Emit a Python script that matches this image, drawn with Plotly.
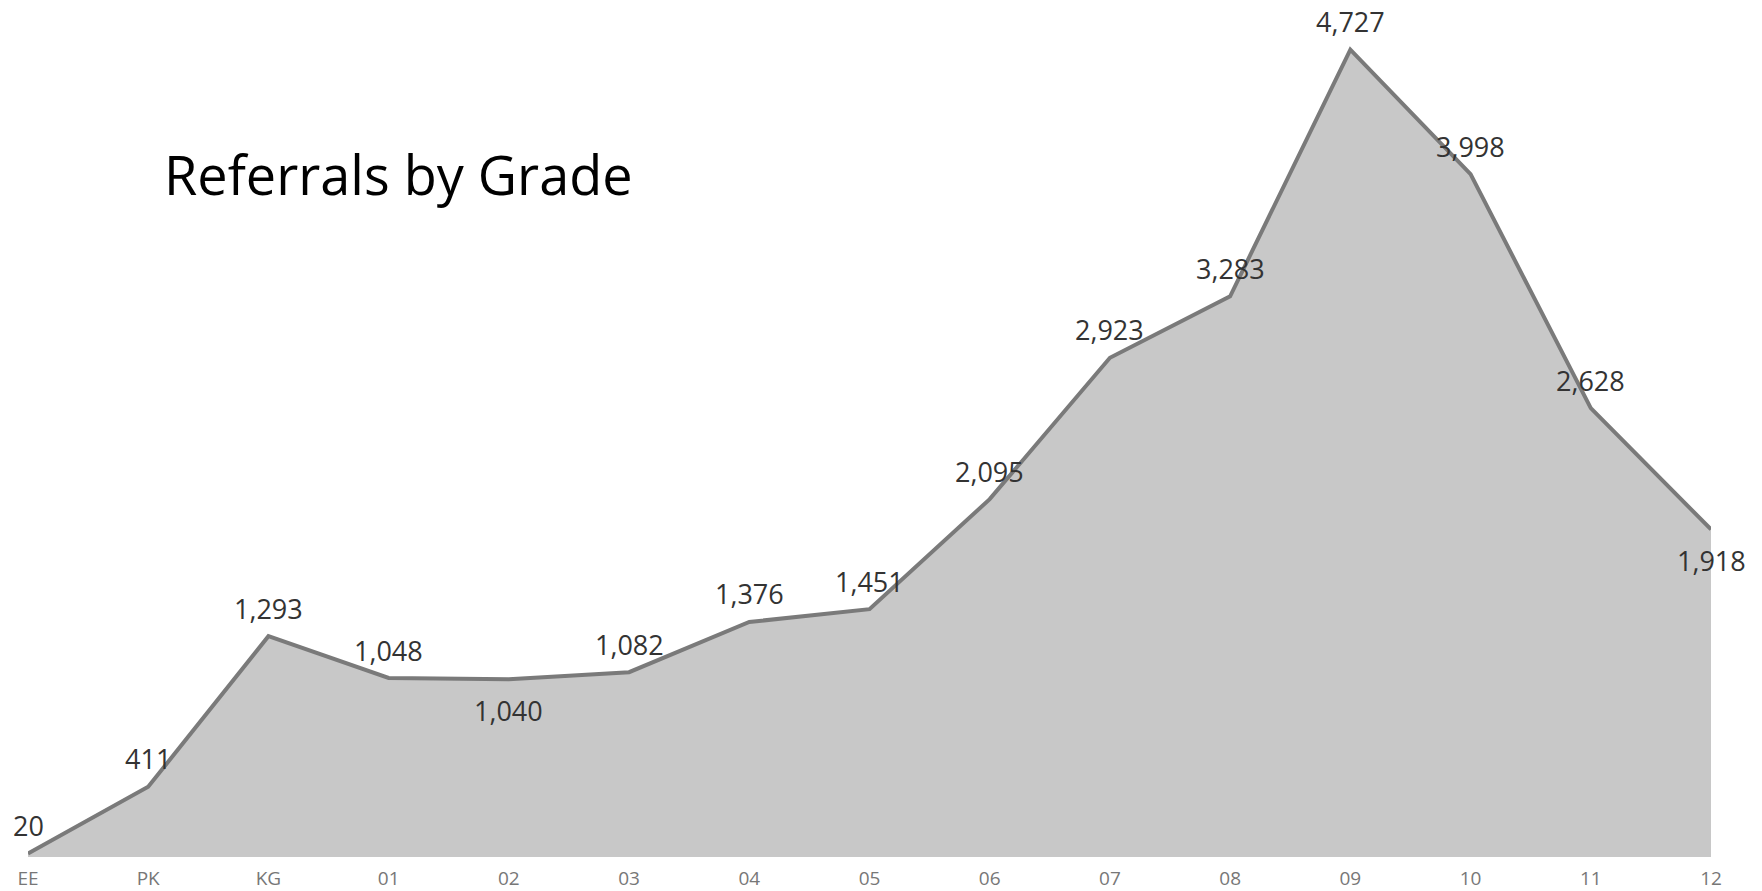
import plotly.graph_objects as go

# Referral counts per grade level
grades = ["EE", "PK", "KG", "01", "02", "03", "04", "05", "06", "07", "08", "09", "10", "11", "12"]
referrals = [20, 411, 1293, 1048, 1040, 1082, 1376, 1451, 2095, 2923, 3283, 4727, 3998, 2628, 1918]
# Which side of the point each value label sits on
label_side = ["above", "above", "above", "above", "below", "above", "above", "above",
              "above", "above", "above", "above", "above", "above", "below"]

W, H = 1762, 891
ML, MR, MT, MB = 28, 51, 3, 34

xs = list(range(len(grades)))

fig = go.Figure(
    go.Scatter(
        x=xs,
        y=referrals,
        mode="lines",
        fill="tozeroy",
        fillcolor="#c8c8c8",
        line=dict(color="#7a7a7a", width=4),
        hoverinfo="x+y",
    )
)

# Value labels
labels = [
    dict(
        x=x, y=v, xref="x", yref="y",
        text=f"{v:,}",
        showarrow=False,
        xanchor="center", yanchor="middle",
        yshift=28 if side == "above" else -31,
        font=dict(family="Open Sans", size=27, color="#333333"),
    )
    for x, v, side in zip(xs, referrals, label_side)
]

title = dict(
    text="Referrals by Grade",
    xref="paper", yref="paper",
    x=(162 - ML) / (W - ML - MR),
    y=(H - MB - 174) / (H - MT - MB),
    xanchor="left", yanchor="middle",
    showarrow=False,
    font=dict(family="Open Sans", size=54, color="black"),
)

fig.update_layout(
    width=W,
    height=H,
    margin=dict(l=ML, r=MR, t=MT, b=MB, autoexpand=False),
    paper_bgcolor="white",
    plot_bgcolor="white",
    showlegend=False,
    xaxis=dict(
        range=[0, len(grades) - 1],
        tickmode="array",
        tickvals=xs,
        ticktext=grades,
        showgrid=False,
        zeroline=False,
        showline=False,
        ticks="",
        automargin=False,
        ticklabelstandoff=8,
        tickfont=dict(family="Open Sans", size=19, color="#777777"),
    ),
    yaxis=dict(range=[0, 5000], visible=False, automargin=False),
    annotations=labels + [title],
)

fig.write_html("out.html")
